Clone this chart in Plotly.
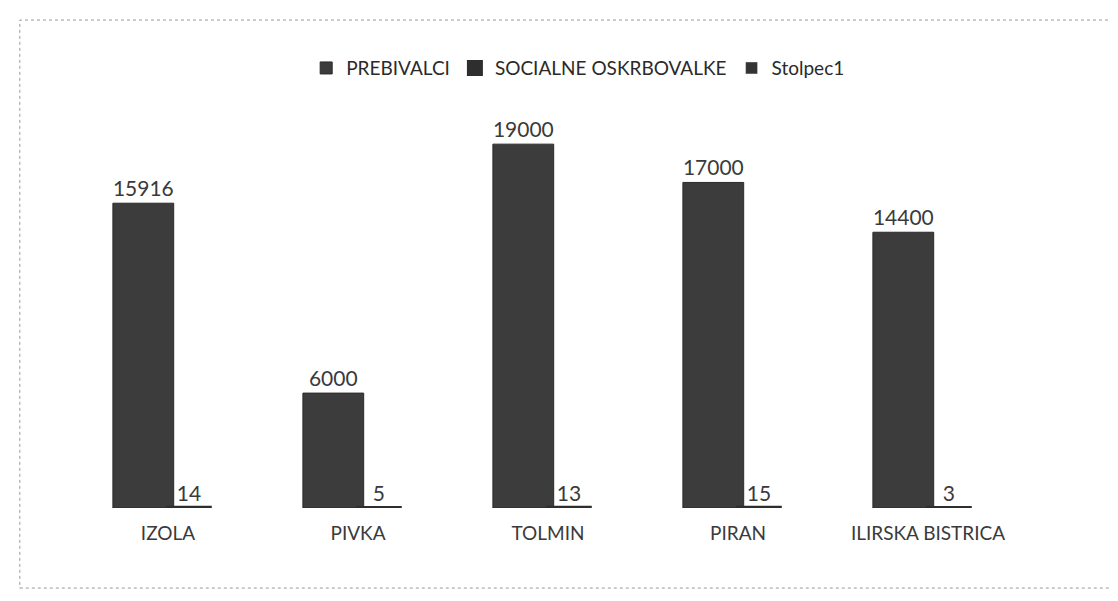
import plotly.graph_objects as go

categories = ["IZOLA", "PIVKA", "TOLMIN", "PIRAN", "ILIRSKA BISTRICA"]
prebivalci = [15916, 6000, 19000, 17000, 14400]
socialne = [14, 5, 13, 15, 3]
stolpec1 = [None, None, None, None, None]

fig = go.Figure()
fig.add_trace(go.Bar(
    name="PREBIVALCI", x=categories, y=prebivalci,
    offset=-0.29, width=0.32,
    marker=dict(color="#3c3c3c", line=dict(color="#2a2a2a", width=1)),
    text=prebivalci, textposition="outside",
    textfont=dict(size=21, color="#3a3a3a", family="Lato"),
    cliponaxis=False,
))
fig.add_trace(go.Bar(
    name="SOCIALNE OSKRBOVALKE", x=categories, y=socialne,
    offset=0.0, width=0.22,
    marker=dict(color="#2e2e2e", line=dict(color="#2e2e2e", width=4)),
    text=socialne, textposition="outside",
    textfont=dict(size=21, color="#3a3a3a", family="Lato"),
    cliponaxis=False,
))
fig.add_trace(go.Bar(
    name="Stolpec1", x=categories, y=stolpec1,
    marker=dict(color="#333333"),
))

fig.update_layout(
    width=1118, height=601,
    paper_bgcolor="white", plot_bgcolor="white",
    margin=dict(l=65, r=103, t=117, b=101),
    font=dict(family="Lato", color="#3a3a3a"),
    showlegend=True,
    legend=dict(
        orientation="h", x=0.51, xanchor="center", xref="container",
        y=0.9, yanchor="middle", yref="container",
        font=dict(size=19, color="#2a2a2a"),
        itemwidth=30,
    ),
    shapes=[dict(
        type="rect", xref="paper", yref="paper",
        x0=-0.056, x1=1.102, y0=-0.209, y1=1.274,
        line=dict(color="#9a9a9a", width=1, dash="dot"),
    )],
)
fig.update_xaxes(
    showgrid=False, showline=False, zeroline=False, ticks="",
    tickfont=dict(size=19, color="#3a3a3a"),
    ticklabelstandoff=12,
)
fig.update_yaxes(visible=False, range=[0, 20000])

fig.write_html("out.html")
